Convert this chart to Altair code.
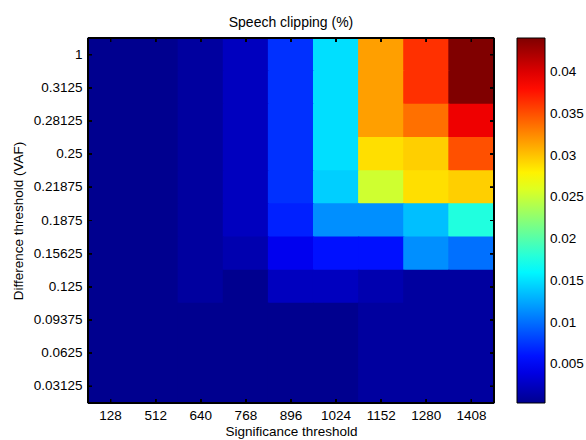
import altair as alt
import pandas as pd

# Significance threshold (columns) and difference threshold (rows, top to bottom)
sig_labels = ["128", "512", "640", "768", "896", "1024", "1152", "1280", "1408"]
diff_labels = ["1", "0.3125", "0.28125", "0.25", "0.21875", "0.1875",
               "0.15625", "0.125", "0.09375", "0.0625", "0.03125"]

# Speech clipping (%) per row
row_1       = [0.00037, 0.00037, 0.00106, 0.00245, 0.00731, 0.01494, 0.03160, 0.03646, 0.04410]
row_0_3125  = [0.00037, 0.00037, 0.00106, 0.00245, 0.00731, 0.01494, 0.03160, 0.03646, 0.04410]
row_0_28125 = [0.00037, 0.00037, 0.00106, 0.00245, 0.00731, 0.01494, 0.03160, 0.03368, 0.03924]
row_0_25    = [0.00037, 0.00037, 0.00106, 0.00245, 0.00731, 0.01494, 0.02882, 0.02952, 0.03507]
row_0_21875 = [0.00037, 0.00037, 0.00106, 0.00245, 0.00731, 0.01425, 0.02535, 0.02882, 0.02952]
row_0_1875  = [0.00037, 0.00037, 0.00106, 0.00245, 0.00662, 0.01147, 0.01147, 0.01355, 0.01772]
row_0_15625 = [0.00037, 0.00037, 0.00106, 0.00176, 0.00453, 0.00592, 0.00592, 0.01147, 0.01009]
row_0_125   = [0.00037, 0.00037, 0.00106, 0.00037, 0.00245, 0.00245, 0.00176, 0.00106, 0.00106]
row_0_09375 = [0.00037, 0.00037, 0.00037, 0.00037, 0.00037, 0.00037, 0.00106, 0.00106, 0.00106]
row_0_0625  = [0.00037, 0.00037, 0.00037, 0.00037, 0.00037, 0.00037, 0.00106, 0.00106, 0.00106]
row_0_03125 = [0.00037, 0.00037, 0.00037, 0.00037, 0.00037, 0.00037, 0.00106, 0.00106, 0.00106]

all_rows = [row_1, row_0_3125, row_0_28125, row_0_25, row_0_21875, row_0_1875,
            row_0_15625, row_0_125, row_0_09375, row_0_0625, row_0_03125]

# Colour bar
cbar_ticks = [0.005, 0.01, 0.015, 0.02, 0.025, 0.03, 0.035, 0.04]
jet_domain = [0.00037, 0.00523, 0.01633, 0.02744, 0.03854, 0.04410]
jet_colors = ["#00008F", "#0000FF", "#00FFFF", "#FFFF00", "#FF0000", "#800000"]

records = []
for d, vals in zip(diff_labels, all_rows):
    for s, v in zip(sig_labels, vals):
        records.append({"sig": s, "diff": d, "clip": v})
df = pd.DataFrame(records)

FONT = "Liberation Sans"
FS = 13.5
W, H = 406, 365

xenc = alt.X("sig:N", sort=sig_labels,
             scale=alt.Scale(paddingInner=0, paddingOuter=0),
             axis=alt.Axis(title="Significance threshold", labelAngle=0, ticks=False,
                           tickSize=0, domain=False, grid=False, labelPadding=5,
                           titlePadding=3,
                           labelFontSize=FS, titleFontSize=FS, labelFont=FONT,
                           titleFont=FONT, titleFontWeight="normal",
                           labelColor="black", titleColor="black"))
yenc = alt.Y("diff:N", sort=diff_labels,
             scale=alt.Scale(paddingInner=0, paddingOuter=0),
             axis=alt.Axis(title="Difference threshold (VAF)", ticks=False, tickSize=0,
                           domain=False, grid=False, labelPadding=6, titlePadding=8,
                           labelFontSize=FS, titleFontSize=FS, labelFont=FONT,
                           titleFont=FONT, titleFontWeight="normal",
                           labelColor="black", titleColor="black"))

jet_scale = alt.Scale(domain=jet_domain, range=jet_colors, interpolate="rgb", clamp=True)

heat = alt.Chart(df).mark_rect(
    width=alt.RelativeBandSize(band=1.025),
    height=alt.RelativeBandSize(band=1.035),
).encode(
    x=xenc, y=yenc,
    color=alt.Color("clip:Q", scale=jet_scale,
                    legend=alt.Legend(title=None, orient="none", legendX=429, legendY=0,
                                      direction="vertical", gradientLength=H,
                                      gradientThickness=28, gradientStrokeColor="black",
                                      gradientStrokeWidth=1, values=cbar_ticks,
                                      labelExpr="format(datum.value, '.3~f')",
                                      labelFontSize=FS, labelFont=FONT,
                                      labelColor="black", labelOffset=5)),
)

tick_style = dict(color="black", strokeWidth=1)
tick_bottom = alt.Chart(df).mark_rule(**tick_style).encode(
    x=xenc, y=alt.value(H), y2=alt.value(H - 4))
tick_top = alt.Chart(df).mark_rule(**tick_style).encode(
    x=xenc, y=alt.value(0), y2=alt.value(4))
tick_left = alt.Chart(df).mark_rule(**tick_style).encode(
    y=yenc, x=alt.value(0), x2=alt.value(4))
tick_right = alt.Chart(df).mark_rule(**tick_style).encode(
    y=yenc, x=alt.value(W), x2=alt.value(W - 4))

frame = alt.Chart(df).mark_rect(fill=None, stroke="black", strokeWidth=1).encode(
    x=alt.value(0), x2=alt.value(W), y=alt.value(0), y2=alt.value(H))

chart = alt.layer(heat, tick_bottom, tick_top, tick_left, tick_right, frame).properties(
    width=W, height=H,
    title=alt.TitleParams("Speech clipping (%)", fontSize=14, fontWeight="normal",
                          font=FONT, color="black", anchor="middle",
                          baseline="alphabetic", offset=-4),
    autosize=alt.AutoSizeParams(type="none"),
    padding={"left": 88, "top": 38, "right": 92, "bottom": 37},
).configure_view(stroke=None).configure(background="white")

chart.save("out.html", embed_options={"renderer": "svg", "actions": False})
